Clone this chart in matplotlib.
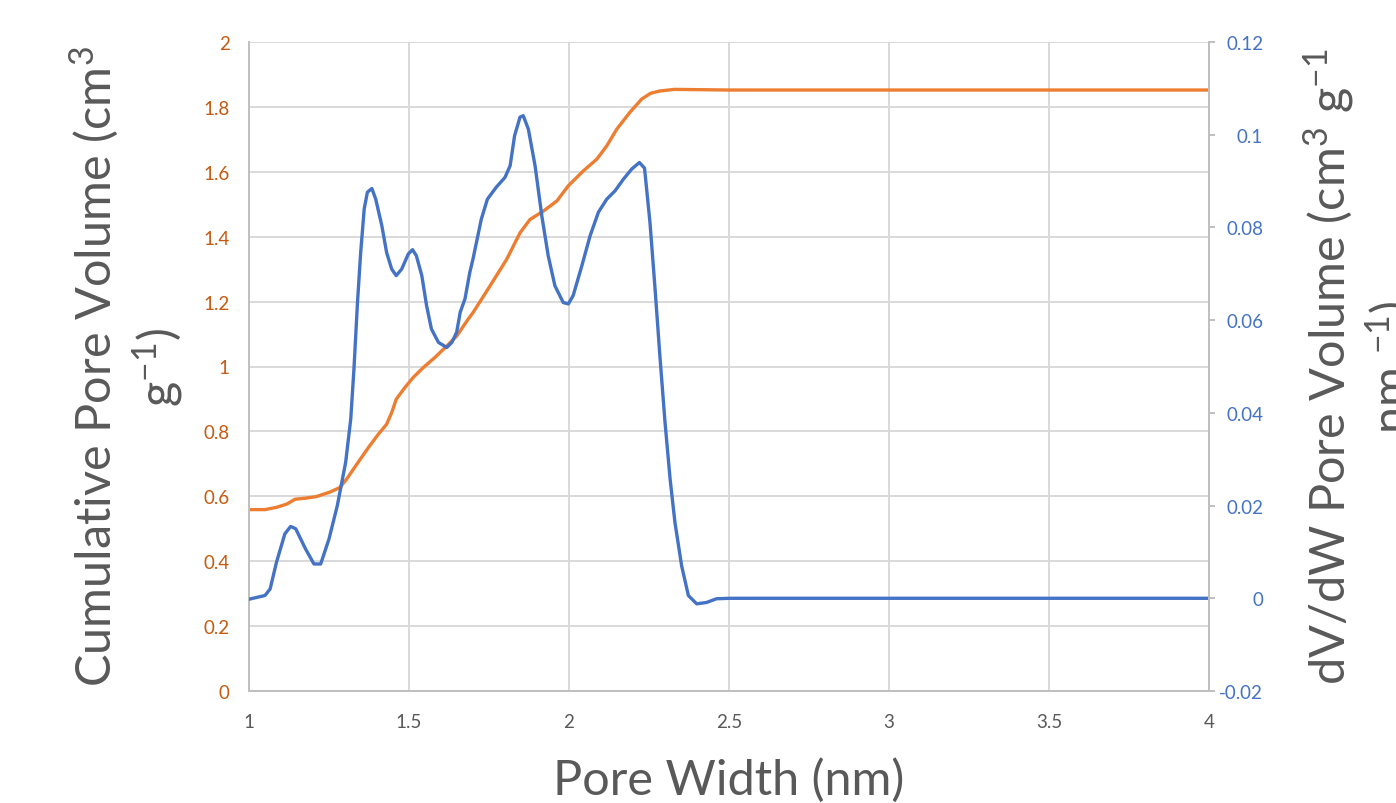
import numpy as np
import matplotlib.pyplot as plt
from matplotlib.ticker import FuncFormatter

plt.rcParams['font.family'] = ['Lato', 'DejaVu Sans']
plt.rcParams['mathtext.fontset'] = 'custom'
plt.rcParams['mathtext.rm'] = 'Lato'
plt.rcParams['mathtext.it'] = 'Lato:italic'

# Cumulative pore volume (left axis)
cum_width = [1.0, 1.05, 1.086, 1.118, 1.144, 1.175, 1.21, 1.253, 1.284, 1.305, 1.337,
             1.373, 1.404, 1.43, 1.446, 1.46, 1.487, 1.513, 1.545, 1.581, 1.618,
             1.649, 1.685, 1.70, 1.753, 1.805, 1.847, 1.878, 1.92, 1.962, 1.998,
             2.045, 2.087, 2.118, 2.149, 2.19, 2.227, 2.255, 2.284, 2.33, 2.5, 3.0,
             3.5, 4.0]
cum_volume = [0.559, 0.559, 0.566, 0.576, 0.591, 0.594, 0.599, 0.613, 0.627, 0.653,
              0.699, 0.750, 0.791, 0.822, 0.858, 0.899, 0.935, 0.966, 0.997, 1.028,
              1.063, 1.094, 1.146, 1.166, 1.248, 1.33, 1.412, 1.453, 1.479, 1.51,
              1.557, 1.603, 1.639, 1.68, 1.731, 1.783, 1.824, 1.842, 1.849, 1.854,
              1.852, 1.852, 1.852, 1.852]

# dV/dW pore volume (right axis)
dv_width = [1.0, 1.05, 1.066, 1.086, 1.112, 1.13, 1.146, 1.177, 1.203, 1.224, 1.25,
            1.276, 1.302, 1.318, 1.328, 1.339, 1.349, 1.36, 1.37, 1.384, 1.396,
            1.415, 1.43, 1.446, 1.46, 1.477, 1.498, 1.511, 1.523, 1.54, 1.555, 1.57,
            1.592, 1.618, 1.634, 1.649, 1.66, 1.675, 1.69, 1.70, 1.726, 1.745, 1.773,
            1.80, 1.816, 1.83, 1.847, 1.857, 1.873, 1.894, 1.915, 1.935, 1.956,
            1.982, 1.998, 2.013, 2.04, 2.066, 2.092, 2.118, 2.144, 2.17, 2.196,
            2.22, 2.236, 2.253, 2.269, 2.284, 2.30, 2.316, 2.331, 2.352, 2.373,
            2.399, 2.43, 2.461, 2.503, 3.0, 3.5, 4.0]
dv_volume = [-0.0002, 0.0006, 0.002, 0.0078, 0.0139, 0.0155, 0.015, 0.0106, 0.0074,
             0.0074, 0.0128, 0.02, 0.0293, 0.0387, 0.0495, 0.0638, 0.0746, 0.084,
             0.0876, 0.0884, 0.0861, 0.0804, 0.0746, 0.071, 0.0696, 0.071, 0.0743,
             0.0752, 0.0739, 0.0696, 0.0631, 0.0581, 0.0552, 0.0541, 0.0552, 0.0574,
             0.0617, 0.0646, 0.0703, 0.0732, 0.0818, 0.0861, 0.0887, 0.0908, 0.0933,
             0.0998, 0.1038, 0.1041, 0.1012, 0.0933, 0.0825, 0.0739, 0.0674, 0.0638,
             0.0635, 0.0653, 0.0717, 0.0782, 0.0833, 0.0861, 0.0879, 0.0904, 0.0926,
             0.094, 0.0928, 0.0811, 0.0667, 0.0523, 0.038, 0.0257, 0.0164, 0.007,
             0.0006, -0.0012, -0.0009, -0.0001, 0.0, 0.0, 0.0, 0.0]

orange = '#ED7D31'
orange_txt = '#C55A11'
blue = '#4472C4'
grey_txt = '#595959'
grid_c = '#D9D9D9'
axis_c = '#BFBFBF'

fig = plt.figure(figsize=(13.96, 8.04), dpi=100)
ax = fig.add_axes([249/1396, 1 - 692/804, 960/1396, 649/804])
ax2 = ax.twinx()

ax.plot(cum_width, cum_volume, color=orange, lw=2.4, solid_joinstyle='round')
ax2.plot(dv_width, dv_volume, color=blue, lw=2.4, solid_joinstyle='round')

ax.set_xlim(1, 4)
ax.set_ylim(0, 2)
ax2.set_ylim(-0.02, 0.12)
ax.set_xticks(np.arange(1, 4.01, 0.5))
ax.set_yticks(np.arange(0, 2.01, 0.2))
ax2.set_yticks(np.arange(-0.02, 0.121, 0.02))


def general(v, pos):
    if abs(v) < 1e-9:
        return '0'
    return ('%.2f' % v).rstrip('0').rstrip('.')


ax.xaxis.set_major_formatter(FuncFormatter(general))
ax.yaxis.set_major_formatter(FuncFormatter(general))
ax2.yaxis.set_major_formatter(FuncFormatter(general))

ax.grid(True, color=grid_c, lw=1.4)
ax.set_axisbelow(True)
for s in ['top', 'right']:
    ax.spines[s].set_visible(False)
for s in ['top', 'left', 'bottom']:
    ax2.spines[s].set_visible(False)
for s in ['left', 'bottom']:
    ax.spines[s].set_color(axis_c)
    ax.spines[s].set_linewidth(1.4)
ax2.spines['right'].set_color(axis_c)
ax2.spines['right'].set_linewidth(1.4)

ax.tick_params(axis='x', length=0, pad=16, labelsize=13.5, labelcolor=grey_txt)
ax.tick_params(axis='y', length=0, pad=14, labelsize=13.5, labelcolor=orange_txt)
ax2.tick_params(axis='y', length=4.5, width=1.4, color=axis_c, pad=34.5,
                labelsize=13.5, labelcolor=blue)
for lab in ax2.get_yticklabels():
    lab.set_horizontalalignment('right')

fig.text(729/1396, 1 - 780/804, 'Pore Width (nm)', fontsize=35, color=grey_txt,
         ha='center', va='center')
fig.text(126/1396, 1 - 367/804, 'Cumulative Pore Volume (cm$^3$\ng$^{-1}$)',
         fontsize=35, color=grey_txt, rotation=90, ha='center', va='center',
         linespacing=1.2, multialignment='center')
fig.text(1359/1396, 1 - 367/804, 'dV/dW Pore Volume (cm$^3$ g$^{-1}$\nnm $^{-1}$)',
         fontsize=35, color=grey_txt, rotation=90, ha='center', va='center',
         linespacing=1.2, multialignment='center')

fig.savefig('out.png', dpi=100)
